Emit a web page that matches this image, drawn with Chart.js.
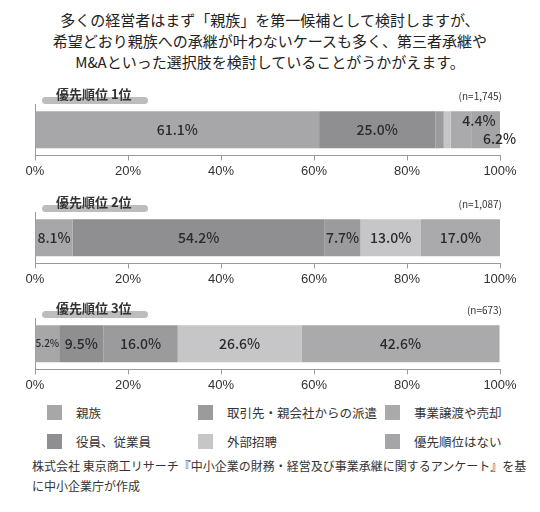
<!DOCTYPE html>
<html><head><meta charset="utf-8">
<script src="https://cdn.jsdelivr.net/npm/chart.js@4"></script>
<style>
body{margin:0;width:540px;height:512px;background:#fff;font-family:"Noto Sans CJK JP",sans-serif;color:#333;position:relative;overflow:hidden}
.t{position:absolute;left:0;width:540px;text-align:center;font-size:15px;line-height:20px;color:#222}
.box{position:absolute;left:0;width:540px;height:100px}
.pill{position:absolute;left:42px;width:106px;height:7px;border-radius:4px;background:#bdbdbf}
.pl{position:absolute;left:56px;font-size:13px;font-weight:bold;color:#333}
.n{position:absolute;right:38px;font-size:10px;color:#333}
.lg{position:absolute;font-size:12.5px;display:flex;align-items:center}
.lg i{display:inline-block;width:15px;height:15px;margin-right:14px}
.foot{position:absolute;left:32px;top:456px;font-size:12px;line-height:20px;color:#333;white-space:nowrap}
</style></head><body>
<div class="t" style="top:10px">多くの経営者はまず「親族」を第一候補として検討しますが、</div>
<div class="t" style="top:31px">希望どおり親族への承継が叶わないケースも多く、第三者承継や</div>
<div class="t" style="top:52px">M&amp;Aといった選択肢を検討していることがうかがえます。</div>
<div id="rows"></div>
<div id="legend"></div>
<div class="foot">株式会社 東京商工リサーチ『中小企業の財務・経営及び事業承継に関するアンケート』を基<br>に中小企業庁が作成</div>
<script>
const categories = ["親族", "役員、従業員", "取引先・親会社からの派遣", "外部招聘", "事業譲渡や売却", "優先順位はない"];
const colors = ["#a7a7a9", "#8f8f91", "#9b9b9d", "#c6c6c8", "#aaaaac", "#a5a5a7"];
const rowTitles = ["優先順位 1位", "優先順位 2位", "優先順位 3位"];
const sampleSizes = ["(n=1,745)", "(n=1,087)", "(n=673)"];
const rank1 = [61.1, 25.0, 1.8, 1.5, 4.4, 6.2];
const rank2 = [8.1, 54.2, 7.7, 13.0, 17.0, 0];
const rank3 = [5.2, 9.5, 16.0, 26.6, 42.6, 0];
const tickLabels = ["0%", "20%", "40%", "60%", "80%", "100%"];
const rows = [rank1, rank2, rank3];
const tops = [82, 190, 296];
// label nudges for the narrow segments of rank 1 (dx, dy)
const nudges = [[null, null, null, null, [18, -9], [14, 9]], [], []];

const segLabels = {
  id: "segLabels",
  afterDatasetsDraw(chart) {
    const ctx = chart.ctx, ri = chart.options.rowIndex;
    ctx.save();
    ctx.fillStyle = "#2a2a2a";
    ctx.textAlign = "center"; ctx.textBaseline = "middle";
    chart.data.datasets.forEach((ds, i) => {
      const v = ds.data[0];
      if (v < 3) return;
      const el = chart.getDatasetMeta(i).data[0];
      const nd = (nudges[ri] || [])[i] || [0, 0];
      const x = (el.x + el.base) / 2 + nd[0], y = el.y + nd[1];
      ctx.font = (v < 6 && ri === 2) ? "500 10px 'Noto Sans CJK JP'" : "500 14px 'Noto Sans CJK JP'";
      ctx.fillText(v.toFixed(1) + "%", x, y);
    });
    ctx.restore();
  }
};

rows.forEach((vals, ri) => {
  const box = document.createElement("div");
  box.className = "box"; box.style.top = tops[ri] + "px";
  box.innerHTML = `<div class="pill" style="top:15px"></div><div class="pl" style="top:2px">${rowTitles[ri]}</div>
    <div class="n" style="top:6px">${sampleSizes[ri]}</div><canvas width="540" height="100"></canvas>`;
  document.getElementById("rows").appendChild(box);
  new Chart(box.querySelector("canvas"), {
    type: "bar",
    data: {
      labels: [rowTitles[ri]],
      datasets: categories.map((c, i) => ({ label: c, data: [vals[i]], backgroundColor: colors[i], borderWidth: 0 }))
    },
    options: {
      rowIndex: ri,
      indexAxis: "y", responsive: false, animation: false,
      layout: { padding: { left: 27, right: 40, top: 22, bottom: 0 } },
      barPercentage: 0.72, categoryPercentage: 1,
      plugins: { legend: { display: false }, tooltip: { enabled: false } },
      scales: {
        x: {
          stacked: true, min: 0, max: 100,
          border: { color: "#999" },
          grid: { display: true, drawOnChartArea: false, color: "#999", tickLength: 5 },
          ticks: { stepSize: 20, color: "#333", font: { size: 13 }, callback: (v, i) => tickLabels[i], maxRotation: 0 }
        },
        y: { stacked: true, display: true, border: { color: "#999" }, grid: { display: false }, ticks: { display: false } }
      }
    },
    plugins: [segLabels]
  });
});

const legendPos = [[47, 403], [47, 432], [198, 403], [198, 432], [385, 403], [385, 432]];
categories.forEach((c, i) => {
  const d = document.createElement("div");
  d.className = "lg";
  d.style.left = legendPos[i][0] + "px"; d.style.top = legendPos[i][1] + "px";
  d.innerHTML = `<i style="background:${colors[i]}"></i>${c}`;
  document.getElementById("legend").appendChild(d);
});
</script>
</body></html>
